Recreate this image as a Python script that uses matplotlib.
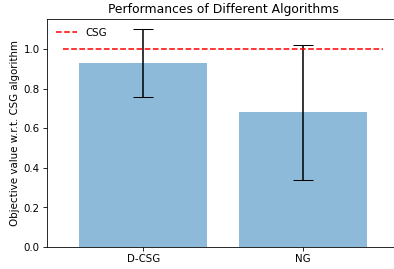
import matplotlib
matplotlib.use("Agg")
import matplotlib.pyplot as plt

algorithms = ["D-CSG", "NG"]
means = [0.929, 0.679]
errors = [0.17, 0.34]
baseline = 1.0

DPI = 74
fig = plt.figure(figsize=(394.4 / DPI, 269.4 / DPI), dpi=DPI)
ax = fig.add_axes([47 / 394, 22.3 / 269, 352 / 394, 227.7 / 269])

x = list(range(len(algorithms)))
ax.bar(x, means, yerr=errors, width=0.8, alpha=0.5, color="#1f77b4",
       ecolor="black", capsize=10)
ax.hlines(baseline, -0.5, len(algorithms) - 0.5, colors="red",
          linestyles="--", label="CSG")

ax.set_xticks(x)
ax.set_xticklabels(algorithms)
ax.set_ylabel("Objective value w.r.t. CSG algorithm")
ax.set_title("Performances of Different Algorithms")
ax.legend(loc="upper left", frameon=False)
# the original image is cropped before the right edge of the axes
ax.spines["right"].set_visible(False)

fig.savefig("out.png", dpi=DPI)
